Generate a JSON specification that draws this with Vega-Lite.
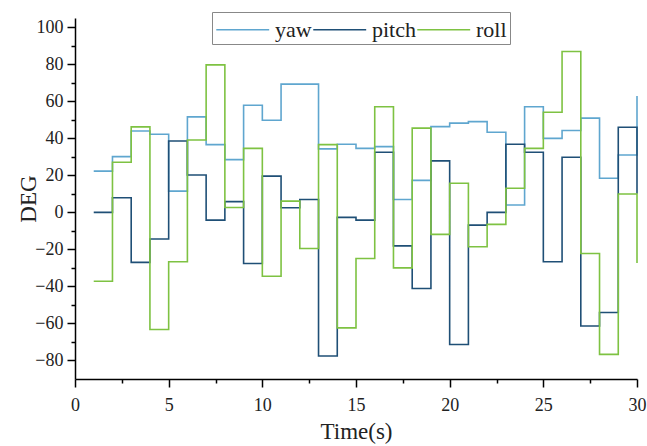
{
  "$schema": "https://vega.github.io/schema/vega-lite/v6.json",
  "width": 562,
  "height": 361,
  "autosize": "none",
  "padding": {"left": 75, "top": 18, "right": 10, "bottom": 67},
  "background": "white",
  "config": {
    "view": {"stroke": null},
    "font": "Liberation Serif"
  },
  "data": {"values": [
    {"t":1,"s":"yaw","v":22.3},{"t":2,"s":"yaw","v":30.1},{"t":3,"s":"yaw","v":44},{"t":4,"s":"yaw","v":42.2},{"t":5,"s":"yaw","v":11.5},
    {"t":6,"s":"yaw","v":51.6},{"t":7,"s":"yaw","v":36.6},{"t":8,"s":"yaw","v":28.5},{"t":9,"s":"yaw","v":57.9},{"t":10,"s":"yaw","v":49.8},
    {"t":11,"s":"yaw","v":69.3},{"t":12,"s":"yaw","v":69.3},{"t":13,"s":"yaw","v":34.3},{"t":14,"s":"yaw","v":36.8},{"t":15,"s":"yaw","v":34.6},
    {"t":16,"s":"yaw","v":35.5},{"t":17,"s":"yaw","v":7},{"t":18,"s":"yaw","v":17.3},{"t":19,"s":"yaw","v":46.3},{"t":20,"s":"yaw","v":48.2},
    {"t":21,"s":"yaw","v":49},{"t":22,"s":"yaw","v":43.3},{"t":23,"s":"yaw","v":4},{"t":24,"s":"yaw","v":57.1},{"t":25,"s":"yaw","v":40},
    {"t":26,"s":"yaw","v":44.2},{"t":27,"s":"yaw","v":50.9},{"t":28,"s":"yaw","v":18.4},{"t":29,"s":"yaw","v":31},{"t":30,"s":"yaw","v":62.9},
    {"t":1,"s":"pitch","v":0},{"t":2,"s":"pitch","v":7.9},{"t":3,"s":"pitch","v":-27},{"t":4,"s":"pitch","v":-14.4},{"t":5,"s":"pitch","v":38.6},
    {"t":6,"s":"pitch","v":20.2},{"t":7,"s":"pitch","v":-4.2},{"t":8,"s":"pitch","v":5.8},{"t":9,"s":"pitch","v":-27.6},{"t":10,"s":"pitch","v":19.6},
    {"t":11,"s":"pitch","v":2.5},{"t":12,"s":"pitch","v":7},{"t":13,"s":"pitch","v":-77.6},{"t":14,"s":"pitch","v":-2.7},{"t":15,"s":"pitch","v":-4.2},
    {"t":16,"s":"pitch","v":32.5},{"t":17,"s":"pitch","v":-18.1},{"t":18,"s":"pitch","v":-41.1},{"t":19,"s":"pitch","v":27.8},{"t":20,"s":"pitch","v":-71.4},
    {"t":21,"s":"pitch","v":-6.9},{"t":22,"s":"pitch","v":0},{"t":23,"s":"pitch","v":36.8},{"t":24,"s":"pitch","v":32.5},{"t":25,"s":"pitch","v":-26.7},
    {"t":26,"s":"pitch","v":29.8},{"t":27,"s":"pitch","v":-61.4},{"t":28,"s":"pitch","v":-54.1},{"t":29,"s":"pitch","v":46},{"t":30,"s":"pitch","v":10},
    {"t":1,"s":"roll","v":-37.2},{"t":2,"s":"roll","v":27.1},{"t":3,"s":"roll","v":46.2},{"t":4,"s":"roll","v":-63.3},{"t":5,"s":"roll","v":-26.7},
    {"t":6,"s":"roll","v":39.1},{"t":7,"s":"roll","v":79.7},{"t":8,"s":"roll","v":2.6},{"t":9,"s":"roll","v":34.6},{"t":10,"s":"roll","v":-34.5},
    {"t":11,"s":"roll","v":6.1},{"t":12,"s":"roll","v":-19.5},{"t":13,"s":"roll","v":36.6},{"t":14,"s":"roll","v":-62.4},{"t":15,"s":"roll","v":-24.9},
    {"t":16,"s":"roll","v":57.1},{"t":17,"s":"roll","v":-30},{"t":18,"s":"roll","v":45.5},{"t":19,"s":"roll","v":-11.9},{"t":20,"s":"roll","v":15.7},
    {"t":21,"s":"roll","v":-18.6},{"t":22,"s":"roll","v":-6.5},{"t":23,"s":"roll","v":13},{"t":24,"s":"roll","v":34.6},{"t":25,"s":"roll","v":54.1},
    {"t":26,"s":"roll","v":86.9},{"t":27,"s":"roll","v":-22.2},{"t":28,"s":"roll","v":-76.7},{"t":29,"s":"roll","v":9.9},{"t":30,"s":"roll","v":-27.4}
  ]},
  "mark": {"type": "line", "interpolate": "step-after", "strokeWidth": 1.6, "clip": false},
  "encoding": {
    "x": {
      "field": "t", "type": "quantitative",
      "scale": {"domain": [0, 30], "nice": false, "zero": false},
      "axis": {
        "title": "Time(s)",
        "values": [0, 2.5, 5, 7.5, 10, 12.5, 15, 17.5, 20, 22.5, 25, 27.5, 30],
        "labelExpr": "datum.value % 5 === 0 ? datum.label : ''",
        "tickSize": {"condition": {"test": "datum.value % 5 === 0", "value": 8}, "value": 4},
        "grid": false, "domainColor": "black", "domainWidth": 1.5, "tickColor": "black", "tickWidth": 1.5,
        "labelFont": "Liberation Serif", "labelFontSize": 18, "labelColor": "#222", "labelPadding": 9,
        "titleFont": "Liberation Serif", "titleFontSize": 23, "titleFontWeight": "normal", "titleColor": "#222",
        "titleBaseline": "middle", "titleY": 52,
        "labelFlush": false, "labelOverlap": false
      }
    },
    "y": {
      "field": "v", "type": "quantitative",
      "scale": {"domain": [-90, 105], "nice": false, "zero": false},
      "axis": {
        "title": "DEG",
        "values": [-80, -70, -60, -50, -40, -30, -20, -10, 0, 10, 20, 30, 40, 50, 60, 70, 80, 90, 100],
        "labelExpr": "datum.value % 20 === 0 ? datum.label : ''",
        "tickSize": {"condition": {"test": "datum.value % 20 === 0", "value": 8}, "value": 4},
        "grid": false, "domainColor": "black", "domainWidth": 1.5, "tickColor": "black", "tickWidth": 1.5,
        "labelFont": "Liberation Serif", "labelFontSize": 18, "labelColor": "#222", "labelPadding": 4,
        "titleFont": "Liberation Serif", "titleFontSize": 23, "titleFontWeight": "normal", "titleColor": "#222",
        "titleBaseline": "middle", "titleX": -47,
        "labelOverlap": false, "labelFlush": false
      }
    },
    "color": {
      "field": "s", "type": "nominal",
      "scale": {"domain": ["yaw", "pitch", "roll"], "range": ["#5fa6cf", "#1f4f76", "#7ec242"]},
      "legend": {
        "title": null, "orient": "none", "direction": "horizontal",
        "legendX": 137, "legendY": -6,
        "symbolType": "M-1,0H3", "symbolSize": 700, "symbolStrokeWidth": 1.6,
        "labelFont": "Liberation Serif", "labelFontSize": 22, "labelColor": "#222",
        "labelOffset": 31, "columnPadding": -5, "padding": 3,
        "strokeColor": "#888", "fillColor": "white"
      }
    }
  }
}
